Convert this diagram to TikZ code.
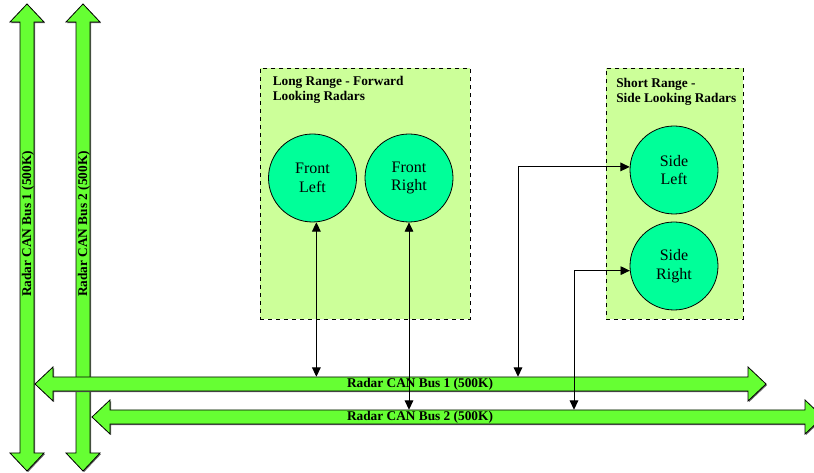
\documentclass[tikz,border=0pt]{standalone}
\usepackage{fontspec}
\setmainfont{Liberation Serif}
\usetikzlibrary{arrows.meta,shadows}
\definecolor{busgreen}{HTML}{66FF33}
\definecolor{radargreen}{HTML}{00FF99}
\definecolor{groupgreen}{HTML}{CCFF99}
\tikzset{
  bus/.style={draw, line width=.6pt, fill=busgreen, drop shadow={shadow xshift=.8pt, shadow yshift=-.8pt, fill=black!60, opacity=1}},
  buslabel/.style={inner sep=0pt, minimum height=10.5pt, font=\bfseries\fontsize{10}{12}\selectfont},
  groupbox/.style={draw, dashed, line width=.6pt, fill=groupgreen, anchor=north west},
  grouptitle/.style={anchor=north west, inner sep=0pt, align=left, font=\bfseries\fontsize{10}{11.5}\selectfont},
  radar/.style={draw, circle, line width=.6pt, fill=radargreen, minimum size=66pt, inner sep=0pt, align=center, font=\fontsize{12}{14}\selectfont},
  link/.style={{Triangle[length=7pt,width=6.5pt]}-{Triangle[length=7pt,width=6.5pt]}, line width=.7pt}
}
% horizontal bus: left tip x, right tip x, y
\newcommand{\hbus}[3]{\draw[bus] (#1,#3) -- ++(18,-17) -- ++(0,10) -- ({#2-18},{#3-7}) -- ++(0,-10) -- (#2,#3) -- ++(-18,17) -- ++(0,-10) -- ({#1+18},{#3+7}) -- ++(0,10) -- cycle;}
% vertical bus: x, top tip y, bottom tip y
\newcommand{\vbus}[3]{\draw[bus] (#1,#2) -- ++(17,18) -- ++(-10,0) -- ({#1+7},{#3-18}) -- ++(10,0) -- (#1,#3) -- ++(-17,-18) -- ++(10,0) -- ({#1-7},{#2+18}) -- ++(-10,0) -- cycle;}

\begin{document}
\begin{tikzpicture}[x=.75pt, y=-.75pt]
\useasboundingbox (0,0) rectangle (814,473);
\clip (0,0) rectangle (814,473);

% CAN buses
\vbus{27}{4}{471}
\vbus{83}{4}{471}
\hbus{35}{766}{384}
\hbus{92}{823}{417}
\node[buslabel, rotate=90] (vbus1) at (28,224) {Radar CAN Bus 1 (500K)};
\node[buslabel, rotate=90] (vbus2) at (84,224) {Radar CAN Bus 2 (500K)};
\node[buslabel] (bus1) at (420,384) {Radar CAN Bus 1 (500K)};
\node[buslabel] (bus2) at (420,417) {Radar CAN Bus 2 (500K)};

% radar groups
\node[groupbox, minimum width=157.5pt, minimum height=188.25pt] (longrange) at (260,68) {};
\node[grouptitle] (longtitle) at ([shift={(12.5,8)}]longrange.north west) {Long Range - Forward\\Looking Radars};
\node[groupbox, minimum width=102.75pt, minimum height=188.25pt] (shortrange) at (606,68) {};
\node[grouptitle] (shorttitle) at ([shift={(10,10)}]shortrange.north west) {Short Range -\\Side Looking Radars};

\node[radar] (fl) at (312.5,178) {Front\\Left};
\node[radar] (fr) at (409,178) {Front\\Right};
\node[radar] (sl) at (674,170) {Side\\Left};
\node[radar] (sr) at (674,266) {Side\\Right};

% connections
\coordinate (tap1) at (518,0);
\coordinate (tap2) at (574,0);
\draw[link] (fl.-85) -- (fl.-85 |- bus1.north);
\draw[link] (fr.south) -- (fr.south |- bus2.north);
\draw[link] (sl.176) -| (tap1 |- bus1.north);
\draw[link] (sr.186) -| (tap2 |- bus2.north);
\end{tikzpicture}
\end{document}
